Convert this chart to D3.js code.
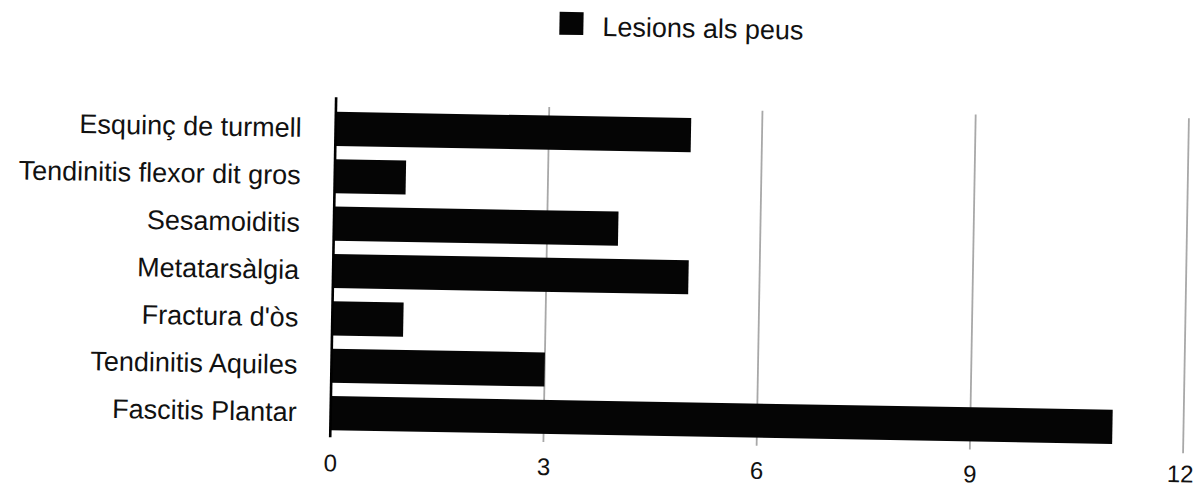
<!DOCTYPE html>
<html><head><meta charset="utf-8">
<script src="https://cdn.jsdelivr.net/npm/d3@7"></script>
<style>body{margin:0;background:#fff;} svg{display:block;font-family:"Liberation Sans","Helvetica",Arial,sans-serif;}</style>
</head><body>
<svg id="c" width="1197" height="489"></svg>
<script>
const categories = ["Esquinç de turmell","Tendinitis flexor dit gros","Sesamoiditis","Metatarsàlgia","Fractura d'òs","Tendinitis Aquiles","Fascitis Plantar"];
const values = [5,1,4,5,1,3,11];
const tickValues = [0,3,6,9,12];
const seriesName = "Lesions als peus";

const root = d3.select("#c").append("g").attr("transform","rotate(1,660,280)");
const x = d3.scaleLinear().domain([0,12]).range([333,1186]);
const y = d3.scaleBand().domain(categories).range([110.9,442.6]).paddingInner(0.28).paddingOuter(0.14);

// gridlines
root.append("g").selectAll("line").data(tickValues.filter(d=>d>0)).join("line")
  .attr("x1",d=>x(d)).attr("x2",d=>x(d)).attr("y1",109).attr("y2",444)
  .attr("stroke","#a8a8a8").attr("stroke-width",1.8);

// bars
root.append("g").selectAll("rect").data(values).join("rect")
  .attr("x",x(0)).attr("y",(d,i)=>y(categories[i]))
  .attr("width",d=>x(d)-x(0)).attr("height",y.bandwidth())
  .attr("fill","#050505");

// axis line
root.append("line").attr("x1",x(0)).attr("x2",x(0)).attr("y1",103).attr("y2",443)
  .attr("stroke","#000").attr("stroke-width",2.6);

// category labels
const yAxis = d3.axisLeft(y).tickSize(0).tickPadding(34);
const ga = root.append("g").attr("transform",`translate(${x(0)},0)`).call(yAxis);
ga.select(".domain").remove();
ga.selectAll("text").attr("font-size",27).attr("fill","#111").attr("font-family","Liberation Sans, Arial, sans-serif");

// x tick labels
const xAxis = d3.axisBottom(x).tickValues(tickValues).tickSize(0).tickPadding(0);
const gx = root.append("g").attr("transform","translate(0,460)").call(xAxis);
gx.select(".domain").remove();
gx.selectAll("text").attr("font-size",24).attr("fill","#111").attr("font-family","Liberation Sans, Arial, sans-serif")
  .attr("dy","0.71em")
  .attr("y",d=>d===12?-4:0)
  .attr("dx",d=>d===12?-3:0);

// legend
const lg = root.append("g").attr("transform","translate(555,13.5)");
lg.append("rect").attr("width",24).attr("height",23).attr("fill","#050505");
lg.append("text").attr("x",43).attr("y",14).attr("dy","0.35em").attr("font-size",27).attr("fill","#111").text(seriesName);
</script>
</body></html>
